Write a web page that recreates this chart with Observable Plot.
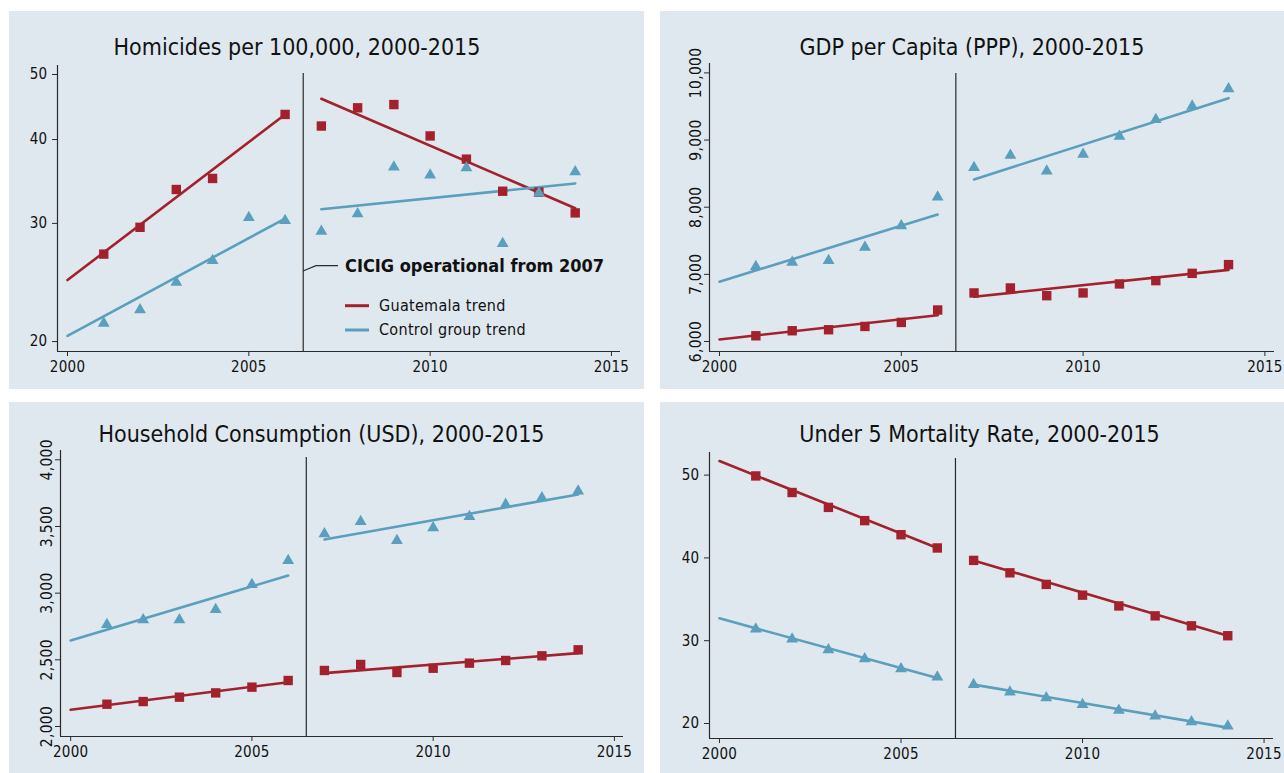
<!DOCTYPE html>
<html><head><meta charset="utf-8">
<script src="https://cdn.jsdelivr.net/npm/d3@7"></script>
<script src="https://cdn.jsdelivr.net/npm/@observablehq/plot@0.6"></script>
<style>
html,body{margin:0;padding:0;background:#fff;}
body{width:1284px;height:773px;position:relative;overflow:hidden;}
.panel{position:absolute;}
.panel svg text{letter-spacing:0.3px;}
</style></head><body>
<div id="p1" class="panel" style="left:9px;top:11px"></div>
<div id="p2" class="panel" style="left:660px;top:11px"></div>
<div id="p3" class="panel" style="left:9px;top:402px"></div>
<div id="p4" class="panel" style="left:660px;top:402px"></div>
<script>
// ---------- data ----------
const years = [2001,2002,2003,2004,2005,2006,2007,2008,2009,2010,2011,2012,2013,2014];
const xTicks = [2000, 2005, 2010, 2015];
const breakYear = 2006.5;
const trendPreYears = [2000, 2006];
const trendPostYears = [2007, 2014];

// Homicides per 100,000 (log axis)
const homTicks = [20, 30, 40, 50];
const homGuat = [27.0,29.6,33.7,35.0,null,43.6,41.9,44.6,45.1,40.5,37.4,33.5,33.4,31.1];
const homCtrl = [21.3,22.3,24.5,26.4,30.6,30.3,29.2,31.0,36.4,35.4,36.3,28.0,33.3,35.8];
const homGuatPre = [24.7, 43.6], homGuatPost = [46.0, 31.6];
const homCtrlPre = [20.4, 30.5], homCtrlPost = [31.5, 34.4];

// GDP per capita (PPP)
const gdpTicks = [6000, 7000, 8000, 9000, 10000];
const gdpGuat = [6085,6160,6175,6224,6284,6469,6723,6797,6682,6723,6857,6906,7015,7145];
const gdpCtrl = [7115,7180,7205,7403,7723,8150,8589,8773,8538,8788,9056,9305,9504,9762];
const gdpGuatPre = [6030, 6390], gdpGuatPost = [6667, 7066];
const gdpCtrlPre = [6891, 7891], gdpCtrlPost = [8414, 9624];

// Household consumption (USD)
const hhTicks = [2000, 2500, 3000, 3500, 4000];
const hhGuat = [2167,2187,2220,2252,2295,2345,2420,2465,2405,2437,2475,2495,2530,2575];
const hhCtrl = [2765,2800,2800,2877,3065,3245,3445,3537,3395,3490,3575,3665,3715,3765];
const hhGuatPre = [2125, 2332], hhGuatPost = [2400, 2550];
const hhCtrlPre = [2645, 3132], hhCtrlPost = [3402, 3740];

// Under 5 mortality rate
const u5Ticks = [20, 30, 40, 50];
const u5Guat = [49.9,47.9,46.1,44.5,42.8,41.2,39.7,38.2,36.8,35.5,34.2,33.0,31.8,30.6];
const u5Ctrl = [31.4,30.2,28.9,27.8,26.6,25.6,24.7,23.8,23.1,22.3,21.6,20.9,20.2,19.7];
const u5GuatPre = [51.7, 41.2], u5GuatPost = [39.7, 30.6];
const u5CtrlPre = [32.7, 25.5], u5CtrlPost = [24.7, 19.5];

const titles = [
  "Homicides per 100,000, 2000-2015",
  "GDP per Capita (PPP), 2000-2015",
  "Household Consumption (USD), 2000-2015",
  "Under 5 Mortality Rate, 2000-2015"
];
const annotationText = "CICIG operational from 2007";
const legendLabels = ["Guatemala trend", "Control group trend"];

// ---------- style ----------
const BG = "#dfe8ef";
const RED = "#a3212d";
const BLUE = "#5b9fbe";
const AXIS = "#2a2a2a";
const FONT = "'DejaVu Sans Condensed','Liberation Sans Narrow','Liberation Sans',Arial,sans-serif";

const toRows = (xs, vs) => xs.map((x, i) => ({year: x, value: vs[i]})).filter(d => d.value != null);

function textMark(x, y, str, style, anchor) {
  return () => d3.create("svg:text")
    .attr("x", x).attr("y", y).attr("fill", "#111")
    .attr("text-anchor", anchor || "start")
    .attr("style", "font-family:" + FONT + ";" + (style || ""))
    .text(str).node();
}

function makePanel(cfg) {
  const fmt = cfg.comma ? d3.format(",") : (d => String(d));
  const marks = [
    Plot.ruleX([cfg.xDomain[0]], {stroke: AXIS, strokeWidth: 1.2}),
    Plot.ruleY([cfg.yDomain[0]], {stroke: AXIS, strokeWidth: 1.2}),
    Plot.ruleX([breakYear], {stroke: AXIS, strokeWidth: 1.2, insetTop: cfg.ruleInset}),
    Plot.axisX({ticks: xTicks, tickFormat: d => String(d), tickSize: 5, tickPadding: 5, label: null, stroke: AXIS, fill: "#111"}),
    Plot.axisY({ticks: cfg.yTicks, tickFormat: fmt, tickSize: 5, tickPadding: cfg.comma ? 4 : 5,
      tickRotate: cfg.comma ? -90 : 0, label: null, stroke: AXIS, fill: "#111",
      fontSize: cfg.comma ? 15.5 : 15}),
    Plot.line(toRows(trendPreYears, cfg.guatPre), {x: "year", y: "value", stroke: RED, strokeWidth: 2.6}),
    Plot.line(toRows(trendPostYears, cfg.guatPost), {x: "year", y: "value", stroke: RED, strokeWidth: 2.6}),
    Plot.line(toRows(trendPreYears, cfg.ctrlPre), {x: "year", y: "value", stroke: BLUE, strokeWidth: 2.6}),
    Plot.line(toRows(trendPostYears, cfg.ctrlPost), {x: "year", y: "value", stroke: BLUE, strokeWidth: 2.6}),
    Plot.dot(toRows(years, cfg.guat), {x: "year", y: "value", symbol: "square", r: 5.3, fill: RED, stroke: "none"}),
    Plot.dot(toRows(years, cfg.ctrl), {x: "year", y: "value", symbol: "triangle", r: 4.4, fill: BLUE, stroke: "none"}),
    textMark(cfg.titleX, cfg.titleY, cfg.title, "font-size:23px;letter-spacing:0px;", "middle")
  ];
  if (cfg.extra) marks.push(...cfg.extra);
  return Plot.plot({
    width: cfg.width, height: cfg.height,
    marginLeft: cfg.m[0], marginRight: cfg.m[1], marginTop: cfg.m[2], marginBottom: cfg.m[3],
    style: {background: BG, fontFamily: FONT, fontSize: "15px", color: "#111", overflow: "visible"},
    x: {domain: cfg.xDomain, label: null},
    y: {type: cfg.yType || "linear", domain: cfg.yDomain, label: null},
    marks
  });
}

// legend + annotation for homicides panel (pixel positions inside the panel)
const homExtra = [
  () => d3.create("svg:path").attr("d", "M294,260L307,254.7L329,254.7").attr("fill", "none").attr("stroke", AXIS).attr("stroke-width", 1.2).node(),
  textMark(336, 261, annotationText, "font-size:18px;letter-spacing:0px;font-weight:bold;"),
  () => d3.create("svg:line").attr("x1", 336).attr("x2", 360).attr("y1", 294.7).attr("y2", 294.7).attr("stroke", RED).attr("stroke-width", 3).node(),
  () => d3.create("svg:line").attr("x1", 336).attr("x2", 360).attr("y1", 319).attr("y2", 319).attr("stroke", BLUE).attr("stroke-width", 3).node(),
  textMark(370, 300, legendLabels[0], "font-size:16px;letter-spacing:0.3px;"),
  textMark(370, 324, legendLabels[1], "font-size:16px;letter-spacing:0.3px;")
];

document.getElementById("p1").append(makePanel({
  width: 635, height: 378, m: [48, 24, 54, 38],
  xDomain: [1999.724, 2015.249], yDomain: [19.33, 51.57], yType: "log",
  yTicks: homTicks, guat: homGuat, ctrl: homCtrl,
  guatPre: homGuatPre, guatPost: homGuatPost, ctrlPre: homCtrlPre, ctrlPost: homCtrlPost,
  title: titles[0], titleX: 288, titleY: 44, ruleInset: 8, extra: homExtra
}));
document.getElementById("p2").append(makePanel({
  width: 624, height: 378, m: [49, 10, 52, 38],
  xDomain: [1999.725, 2015.264], yDomain: [5851, 10140], comma: true,
  yTicks: gdpTicks, guat: gdpGuat, ctrl: gdpCtrl,
  guatPre: gdpGuatPre, guatPost: gdpGuatPost, ctrlPre: gdpCtrlPre, ctrlPost: gdpCtrlPost,
  title: titles[1], titleX: 312, titleY: 44, ruleInset: 10
}));
document.getElementById("p3").append(makePanel({
  width: 635, height: 371, m: [51, 21, 48, 37],
  xDomain: [1999.719, 2015.251], yDomain: [1925, 4069.7], comma: true,
  yTicks: hhTicks, guat: hhGuat, ctrl: hhCtrl,
  guatPre: hhGuatPre, guatPost: hhGuatPost, ctrlPre: hhCtrlPre, ctrlPost: hhCtrlPost,
  title: titles[2], titleX: 312.5, titleY: 40, ruleInset: 7
}));
document.getElementById("p4").append(makePanel({
  width: 624, height: 371, m: [49, 11, 50, 35],
  xDomain: [1999.725, 2015.26], yDomain: [18.19, 52.73],
  yTicks: u5Ticks, guat: u5Guat, ctrl: u5Ctrl,
  guatPre: u5GuatPre, guatPost: u5GuatPost, ctrlPre: u5CtrlPre, ctrlPost: u5CtrlPost,
  title: titles[3], titleX: 319.5, titleY: 40, ruleInset: 6
}));
</script>
</body></html>
